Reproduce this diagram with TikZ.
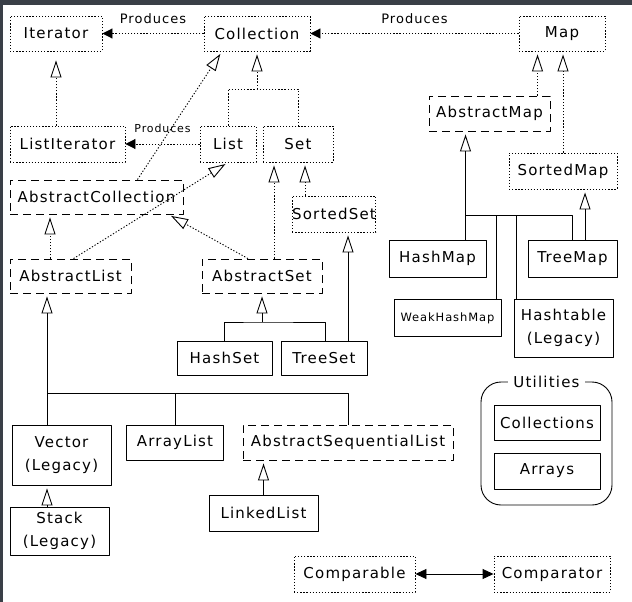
\documentclass[tikz,border=0pt]{standalone}
\usepackage{fontspec}
\setmainfont[LetterSpace=8]{DejaVu Sans}
\usetikzlibrary{arrows.meta}
\definecolor{framegray}{HTML}{3A3F47}
\begin{document}
\begin{tikzpicture}[x=1pt,y=-1pt,line width=0.9pt,line join=round,
    font=\fontsize{15}{23}\selectfont,
    dotline/.style={dash pattern=on 1.3pt off 1.8pt},
    dotbox/.style={draw,dotline,inner sep=0pt},
    dashbox/.style={draw,dash pattern=on 8pt off 5pt,inner sep=0pt},
    solidbox/.style={draw,inner sep=0pt},
    wh/.style 2 args={minimum width=#1,minimum height=#2},
    gen/.style={-{Triangle[open,length=17pt,width=11pt]},shorten >=3pt},
    produces/.style={dotline,-{Triangle[length=10pt,width=10pt]}},
    lbl/.style={font=\fontsize{13}{15}\selectfont,inner sep=1pt}]
  % frame
  \fill[white] (0,0) rectangle (632,602);
  \fill[framegray] (0,0) rectangle (632,5);
  \fill[framegray] (0,0) rectangle (3,602);
  \useasboundingbox (0,0) rectangle (632,602);

  % interfaces
  \node[dotbox,wh={92}{35}] (iter) at (56,33.5) {Iterator};
  \node[dotbox,wh={106}{35}] (coll) at (257,33.5) {Collection};
  \node[dotbox,wh={86}{35}] (map) at (562,33.5) {Map};
  \node[dotbox,wh={115}{36}] (litr) at (67.5,144) {ListIterator};
  \node[dotbox,wh={56}{36}] (list) at (228,144) {List};
  \node[dotbox,wh={70}{36}] (set) at (298,144) {Set};
  \node[dotbox,wh={80}{36}] (sset) at (334,214) {SortedSet};
  \node[dotbox,wh={108}{36}] (smap) at (563,171) {SortedMap};
  \node[dotbox,wh={121}{36}] (cmpbl) at (354.5,574) {Comparable};
  \node[dotbox,wh={116}{36}] (cmptr) at (552,574) {Comparator};

  % abstract classes
  \node[dashbox,wh={173}{34}] (abscoll) at (96.5,197) {AbstractCollection};
  \node[dashbox,wh={121}{34}] (alist) at (70.5,276) {AbstractList};
  \node[dashbox,wh={120}{34}] (abset) at (262,276) {AbstractSet};
  \node[dashbox,wh={121}{35}] (amap) at (489.5,113.5) {AbstractMap};
  \node[dashbox,wh={210}{35}] (aseq) at (348,442.5) {AbstractSequentialList};

  % classes
  \node[solidbox,wh={95}{34}] (hset) at (224.5,358) {HashSet};
  \node[solidbox,wh={86}{34}] (tset) at (324,358) {TreeSet};
  \node[solidbox,wh={97}{37}] (hmap) at (437.5,258.5) {HashMap};
  \node[solidbox,wh={89}{37}] (tmap) at (572.5,258.5) {TreeMap};
  \node[solidbox,wh={107}{37},font=\fontsize{11.5}{14}\selectfont] (whmap) at (447.5,318) {WeakHashMap};
  \node[solidbox,wh={99}{58},align=center] (htab) at (563.5,328) {Hashtable\\(Legacy)};
  \node[solidbox,wh={99}{60},align=center] (vect) at (61.5,455) {Vector\\(Legacy)};
  \node[solidbox,wh={97}{35}] (alst) at (175,442.5) {ArrayList};
  \node[solidbox,wh={99}{48},align=center] (stack) at (59.5,531) {Stack\\(Legacy)};
  \node[solidbox,wh={109}{36}] (llist) at (263.5,513) {LinkedList};

  % utilities
  \node[solidbox,rounded corners=20pt,wh={131}{123}] (util) at (546.5,443.5) {};
  \node[fill=white,inner xsep=5pt,inner ysep=0pt] (utillbl) at (util.north) {Utilities};
  \node[solidbox,wh={106}{35}] (colls) at (547,422.5) {Collections};
  \node[solidbox,wh={106}{36}] (arrs) at (547,471) {Arrays};

  % produces
  \draw[produces] (coll) -- (iter) node[lbl,midway,above=8pt] (prod1) {Produces};
  \draw[produces] (map) -- (coll) node[lbl,midway,above=8pt] (prod2) {Produces};
  \draw[produces] (list) -- (litr)
    node[lbl,font=\fontsize{11}{13}\selectfont,midway,above=10pt] (prod3) {Produces};

  % collection side
  \draw[dotline,gen,shorten >=9pt] (iter.south |- litr.north) -- (iter.south);
  \coordinate (cj) at (257,89);
  \draw[dotline] (list.north) |- (cj) -| (set.north);
  \draw[dotline,gen] (cj) -- (coll.south);
  \draw[dotline,gen] ([xshift=-46pt]abscoll.north east) -- ([xshift=-35pt]coll.south);
  \coordinate (al1) at ([xshift=-20.5pt]alist.north);
  \draw[dotline,gen] (al1) -- (al1 |- abscoll.south);
  \draw[dotline,gen] ([xshift=3pt]alist.north) -- (list.south);
  \draw[dotline,gen] ([xshift=-14pt]abset.north) -- ([xshift=-15pt]abscoll.south east);
  \coordinate (as1) at ([xshift=12pt]abset.north);
  \draw[dotline,gen] (as1) -- (as1 |- set.south);
  \coordinate (ss1) at ([xshift=-29pt]sset.north);
  \draw[dotline,gen] (ss1) -- (ss1 |- set.south);

  % sets
  \coordinate (sj) at (262,322);
  \draw (hset.north) |- (sj) -| ([xshift=1pt]tset.north);
  \draw[gen] (sj) -- (abset.south);
  \coordinate (ts1) at ([xshift=24pt]tset.north);
  \draw[gen] (ts1) -- (ts1 |- sset.south);

  % maps
  \coordinate (am1) at ([xshift=48pt]amap.north);
  \draw[dotline,gen] (am1) -- (am1 |- map.south);
  \draw[dotline,gen] (smap.north) -- (smap.north |- map.south);
  \coordinate (hm1) at ([xshift=28pt]hmap.north);
  \draw[gen] (hm1) -- (hm1 |- amap.south);
  \coordinate (mj) at (465.5,215);
  \draw (mj) -| (tmap.north);
  \coordinate (wh1) at ([xshift=48.5pt]whmap.north);
  \draw (wh1) -- (wh1 |- mj);
  \coordinate (ht1) at ([xshift=-47.5pt]htab.north);
  \draw (ht1) -- (ht1 |- mj);
  \coordinate (tm1) at ([xshift=12.5pt]tmap.north);
  \draw[gen] (tm1) -- (tm1 |- smap.south);

  % lists
  \coordinate (lj) at (47,393);
  \draw[gen] (lj) -- (lj |- alist.south);
  \draw (vect.north -| lj) -- (lj) -| (alst.north);
  \draw (lj) -| (aseq.north);
  \draw[gen] (stack.north -| lj) -- (vect.south -| lj);
  \draw[gen] (llist.north) -- (llist.north |- aseq.south);

  % comparison
  \draw[{Triangle[length=11pt,width=10pt]}-{Triangle[length=11pt,width=10pt]}] (cmpbl) -- (cmptr);
\end{tikzpicture}
\end{document}
